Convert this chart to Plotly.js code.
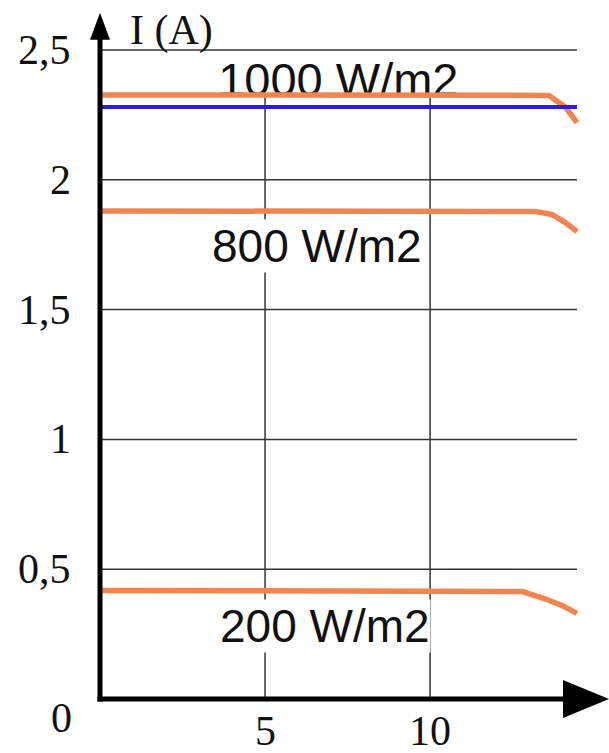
<!DOCTYPE html>
<html>
<head>
<meta charset="utf-8">
<script src="https://cdn.plot.ly/plotly-3.0.1.min.js"></script>
<style>html,body{margin:0;padding:0;background:#fff;}#chart{width:609px;height:753px;}</style>
</head>
<body>
<div id="chart"></div>
<script>
// Data
const x1000 = [0, 13.6, 14.1, 14.45];
const y1000 = [2.327, 2.325, 2.28, 2.22];
const x800 = [0, 13.2, 13.7, 14.1, 14.45];
const y800 = [1.88, 1.878, 1.866, 1.835, 1.80];
const x200 = [0, 12.8, 13.5, 14.0, 14.45];
const y200 = [0.418, 0.414, 0.385, 0.36, 0.33];
const xBlue = [0, 14.45];
const yBlue = [2.28, 2.28];

const seriesLabels = ['1000 W/m2', '800 W/m2', '200 W/m2'];
const labelX = [7.22, 6.58, 6.82];
const labelY = [2.368, 1.745, 0.281];

const xTickVals = [5, 10];
const xTickText = ['5', '10'];
const yTickVals = [0.5, 1, 1.5, 2, 2.5];
const yTickText = ['0,5', '1', '1,5', '2', '2,5'];
const gridXmax = 14.45;
const vGridTop = 2.327;

const orange = '#F2844E';
const blue = '#2A1CE0';
const serif = '"Liberation Serif", "DejaVu Serif", serif';
const sans = '"Liberation Sans", Arial, sans-serif';

const traces = [
  {x: [labelX[0]], y: [labelY[0]], mode: 'text', text: [seriesLabels[0]],
   textposition: 'middle center', textfont: {family: sans, size: 47, color: '#111'},
   hoverinfo: 'skip', cliponaxis: false, showlegend: false},
  {x: x1000, y: y1000, mode: 'lines', line: {color: orange, width: 5.5}, showlegend: false},
  {x: xBlue, y: yBlue, mode: 'lines', line: {color: blue, width: 4}, showlegend: false},
  {x: x800, y: y800, mode: 'lines', line: {color: orange, width: 5.5}, showlegend: false},
  {x: x200, y: y200, mode: 'lines', line: {color: orange, width: 5.5}, showlegend: false}
];

const shapes = [];
yTickVals.forEach(v => shapes.push({type: 'line', xref: 'x', yref: 'y', x0: 0, x1: gridXmax, y0: v, y1: v,
  line: {color: '#333', width: 1.5}, layer: 'below'}));
xTickVals.forEach(v => shapes.push({type: 'line', xref: 'x', yref: 'y', x0: v, x1: v, y0: 0, y1: vGridTop,
  line: {color: '#333', width: 1.5}, layer: 'below'}));
// axis lines
shapes.push({type: 'line', xref: 'paper', yref: 'paper', x0: -0.005, x1: 0.93, y0: 0, y1: 0,
  line: {color: '#000', width: 5}, layer: 'above'});
shapes.push({type: 'line', xref: 'paper', yref: 'paper', x0: 0, x1: 0, y0: -0.0036, y1: 0.96,
  line: {color: '#000', width: 5}, layer: 'above'});
// axis arrowheads
shapes.push({type: 'path', xref: 'paper', yref: 'paper', xsizemode: 'pixel', ysizemode: 'pixel',
  xanchor: 1, yanchor: 0, path: 'M0,0 L-46,19 L-46,-19 Z', fillcolor: '#000', line: {width: 0}, layer: 'above'});
shapes.push({type: 'path', xref: 'paper', yref: 'paper', xsizemode: 'pixel', ysizemode: 'pixel',
  xanchor: 0, yanchor: 0.986, path: 'M0,0 L-10,-27 L10,-27 Z', fillcolor: '#000', line: {width: 0}, layer: 'above'});

const annotations = [
  {x: labelX[1], y: labelY[1], xref: 'x', yref: 'y', text: seriesLabels[1], showarrow: false,
   font: {family: sans, size: 46, color: '#111'}, bgcolor: '#fff', borderpad: 0},
  {x: labelX[2], y: labelY[2], xref: 'x', yref: 'y', text: seriesLabels[2], showarrow: false,
   font: {family: sans, size: 46, color: '#111'}, bgcolor: '#fff', borderpad: 0},
  {x: 0.055, y: 0.961, xref: 'paper', yref: 'paper', xanchor: 'left', yanchor: 'middle', text: 'I (A)', showarrow: false,
   font: {family: serif, size: 42, color: '#111'}},
  {x: -0.0747, y: -0.027, xref: 'paper', yref: 'paper', xanchor: 'center', yanchor: 'middle', text: '0', showarrow: false,
   font: {family: serif, size: 42, color: '#111'}}
];
// x tick labels placed just under the axis
xTickVals.forEach((v, i) => annotations.push({x: v, y: -0.046, xref: 'x', yref: 'paper', xanchor: 'center', yanchor: 'middle',
  text: xTickText[i], showarrow: false, font: {family: serif, size: 42, color: '#111'}}));
// y tick labels, right-aligned left of the axis
yTickVals.forEach((v, i) => annotations.push({x: -0.053, y: v, xref: 'paper', yref: 'y', xanchor: 'right', yanchor: 'middle',
  text: yTickText[i], showarrow: false, font: {family: serif, size: 42, color: '#111'}}));

const layout = {
  width: 609, height: 753,
  margin: {l: 100, r: 0, t: 3, b: 54},
  paper_bgcolor: '#fff', plot_bgcolor: '#fff',
  showlegend: false,
  xaxis: {range: [0, 15.42], showgrid: false, zeroline: false, showline: false,
    ticks: '', tickvals: xTickVals, showticklabels: false},
  yaxis: {range: [0, 2.681], showgrid: false, zeroline: false, showline: false,
    ticks: '', tickvals: yTickVals, showticklabels: false},
  shapes: shapes,
  annotations: annotations
};

Plotly.newPlot('chart', traces, layout, {displayModeBar: false, staticPlot: true});
</script>
</body>
</html>
